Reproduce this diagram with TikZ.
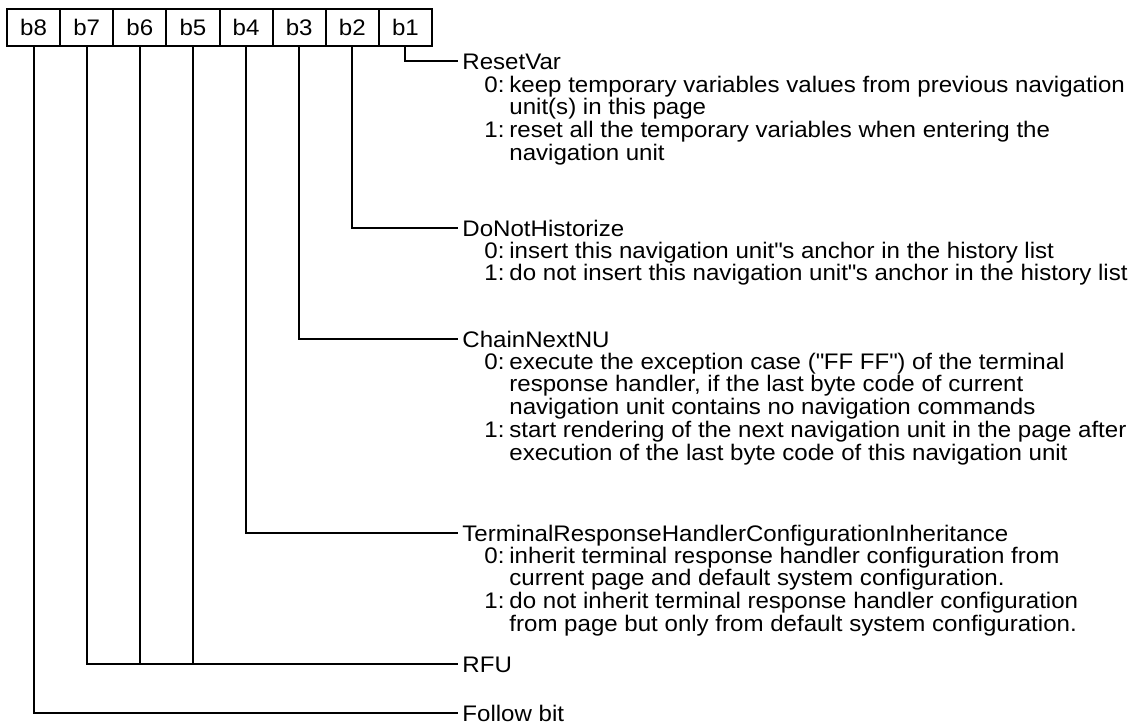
\documentclass[tikz,border=0pt]{standalone}
\usepackage{fontspec}
\setmainfont{Liberation Sans}[FakeStretch=1.07]
\usetikzlibrary{positioning}
\tikzset{
  bitbox/.style={draw,line width=1pt,minimum width=26.5625pt,minimum height=18.5pt,inner sep=0pt,outer sep=0pt},
  wire/.style={line width=1pt},
  fieldname/.style={anchor=base west,inner sep=0pt},
  fieldvals/.style={anchor=base west,inner sep=0pt}
}
\newcommand{\bitvals}[1]{\begin{tabular}[t]{@{}p{12.5pt}@{}l@{}}#1\end{tabular}}
\begin{document}
\begin{tikzpicture}[x=0.5pt,y=-0.5pt,font=\fontsize{11.25}{11}\selectfont]
\useasboundingbox (0,0) rectangle (1138,724);

% the eight bits of the byte
\foreach \i [count=\k] in {8,7,6,5,4,3,2,1}
  \node[bitbox] (bit\i) at ({7+53.125*(\k-0.5)},27.5) {b\i};

% ends of the connectors
\coordinate (resetend) at (458,61);
\coordinate (histend) at (458,228);
\coordinate (chainend) at (458,339);
\coordinate (inhend) at (458,533);
\coordinate (rfuend) at (458,664);
\coordinate (followend) at (458,713);

\draw[wire] (bit1.south) |- (resetend);
\draw[wire] (bit2.south) |- (histend);
\draw[wire] (bit3.south) |- (chainend);
\draw[wire] (bit4.south) |- (inhend);
\draw[wire] (bit7.south) |- (rfuend);
\draw[wire] (bit6.south) -- (bit6.south |- rfuend);
\draw[wire] (bit5.south) -- (bit5.south |- rfuend);
\draw[wire] (bit8.south) |- (followend);

% field names
\node[fieldname] (resetvar) at ([xshift=2pt,yshift=-4pt]resetend) {ResetVar};
\node[fieldname] (nohist) at ([xshift=2pt,yshift=-4pt]histend) {DoNotHistorize};
\node[fieldname] (chainnu) at ([xshift=2pt,yshift=-4pt]chainend) {ChainNextNU};
\node[fieldname] (inherit) at ([xshift=2pt,yshift=-4pt]inhend) {TerminalResponseHandlerConfigurationInheritance};
\node[fieldname] (rfu) at ([xshift=2pt,yshift=-4pt]rfuend) {RFU};
\node[fieldname] (follow) at ([xshift=2pt,yshift=-4pt]followend) {Follow bit};

% values
\node[fieldvals] (resetvals) at ([shift={(11pt,-11.5pt)}]resetvar.base west) {\bitvals{%
  0: & keep temporary variables values from previous navigation\\
     & unit(s) in this page\\
  1: & reset all the temporary variables when entering the\\
     & navigation unit}};
\node[fieldvals] (histvals) at ([shift={(11pt,-11pt)}]nohist.base west) {\bitvals{%
  0: & insert this navigation unit\textquotedbl s anchor in the history list\\
  1: & do not insert this navigation unit\textquotedbl s anchor in the history list}};
\node[fieldvals] (chainvals) at ([shift={(11pt,-11pt)}]chainnu.base west) {\bitvals{%
  0: & execute the exception case (\textquotedbl FF FF\textquotedbl) of the terminal\\
     & response handler, if the last byte code of current\\
     & navigation unit contains no navigation commands\\
  1: & start rendering of the next navigation unit in the page after\\
     & execution of the last byte code of this navigation unit}};
\node[fieldvals] (inhvals) at ([shift={(11pt,-11pt)}]inherit.base west) {\bitvals{%
  0: & inherit terminal response handler configuration from\\
     & current page and default system configuration.\\
  1: & do not inherit terminal response handler configuration\\
     & from page but only from default system configuration.}};
\end{tikzpicture}
\end{document}
